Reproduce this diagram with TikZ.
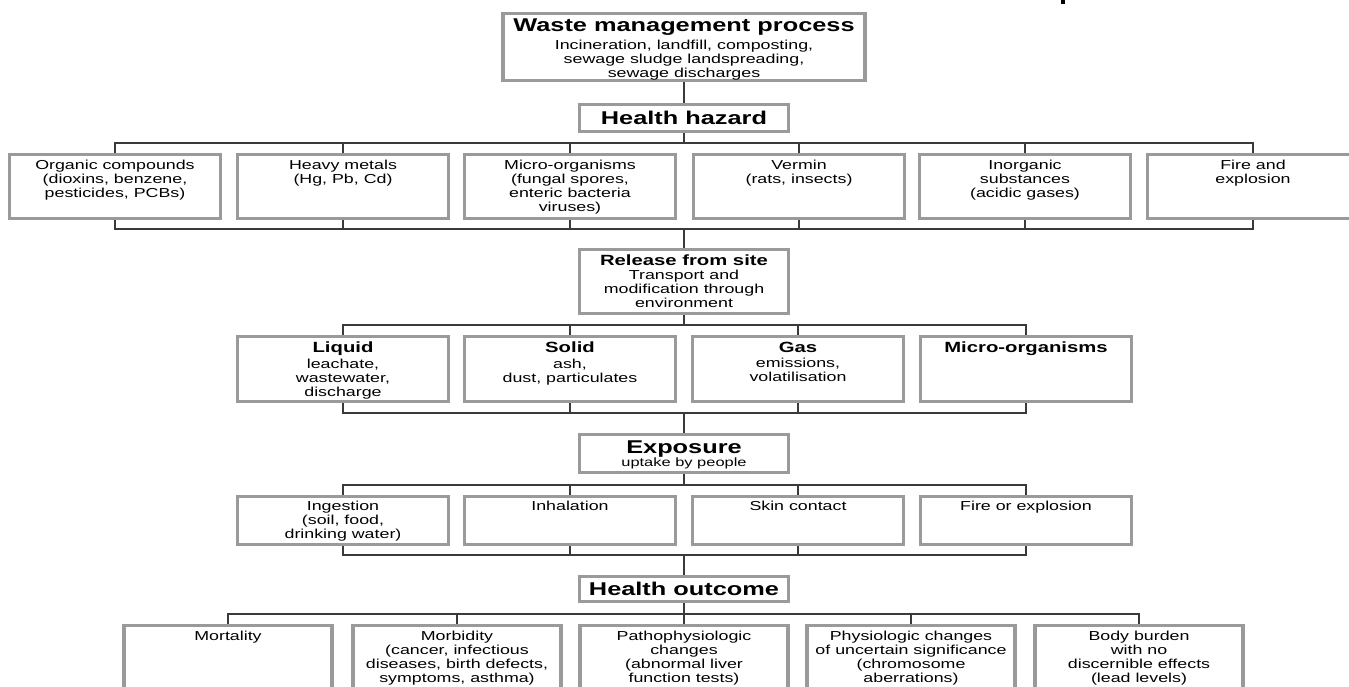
\documentclass[tikz,border=0pt]{standalone}
\usepackage{fontspec}
\setmainfont{Liberation Sans}[FakeStretch=1.37]
\newcommand\fsz[2]{\fontsize{#1}{#2}\selectfont}
\definecolor{boxgray}{HTML}{9A9A9A}
\definecolor{wiregray}{HTML}{3A3A3A}
\begin{document}
\begin{tikzpicture}[x=1pt,y=-1pt,
  box/.style={draw=boxgray, line width=3.4pt, fill=white, inner sep=0pt,
              minimum width=210.6pt},
  wire/.style={draw=wiregray, line width=1.6pt},
  txt/.style={anchor=north, inner sep=0pt, align=center, font=\fsz{13}{14}},
  hbig/.style={font=\bfseries\fsz{18.5}{20}},
]
\useasboundingbox (0,0) rectangle (1349,686);
\fill[white] (0,0) rectangle (1349,686);
\clip (0,0) rectangle (1349,686);

% stray printer mark at the top edge
\fill[black] (1061,0) rectangle (1065,4);

% ---- waste management process and hazard heading
\node[box, minimum width=362pt, minimum height=66.6pt] (wm) at (684,47) {};
\node[txt, yshift=-6.3pt] (wm-t) at (wm.north)
  {{\bfseries\fsz{18.5}{20}Waste management process}\\[4pt]
   Incineration, landfill, composting,\\ sewage sludge landspreading,\\ sewage discharges};
\node[box, hbig, minimum width=208.6pt, minimum height=26.6pt] (hh) at (684,118) {Health hazard};

% ---- hazard categories
\foreach \n/\x in {org/115, hvy/343, mic/570, ver/799, ino/1025, fir/1253}
  \node[box, minimum height=63.6pt] (\n) at (\x,186.5) {};
\node[txt, yshift=-7pt] (org-t) at (org.north) {Organic compounds\\(dioxins, benzene,\\pesticides, PCBs)};
\node[txt, yshift=-7pt] (hvy-t) at (hvy.north) {Heavy metals\\(Hg, Pb, Cd)};
\node[txt, yshift=-7pt] (mic-t) at (mic.north) {Micro-organisms\\(fungal spores,\\enteric bacteria\\viruses)};
\node[txt, yshift=-7pt] (ver-t) at (ver.north) {Vermin\\(rats, insects)};
\node[txt, yshift=-7pt] (ino-t) at (ino.north) {Inorganic\\substances\\(acidic gases)};
\node[txt, yshift=-7pt] (fir-t) at (fir.north) {Fire and\\explosion};

% ---- release from site
\node[box, minimum width=208.6pt, minimum height=63.6pt] (rel) at (684,281.5) {};
\node[txt, yshift=-6.6pt] (rel-t) at (rel.north)
  {{\bfseries\fsz{14.8}{16}Release from site}\\[0.4pt]
   Transport and\\modification through\\environment};

% ---- media
\foreach \n/\x in {liq/343, sol/570, gas/798, mor/1026}
  \node[box, minimum height=64.6pt] (\n) at (\x,369) {};
\node[txt, yshift=-6.6pt] (liq-t) at (liq.north) {{\bfseries\fsz{14.8}{16}Liquid}\\[1.5pt]leachate,\\wastewater,\\discharge};
\node[txt, yshift=-6.6pt] (sol-t) at (sol.north) {{\bfseries\fsz{14.8}{16}Solid}\\[1.5pt]ash,\\dust, particulates};
\node[txt, yshift=-6.6pt] (gas-t) at (gas.north) {{\bfseries\fsz{14.8}{16}Gas}\\[1.5pt]emissions,\\volatilisation};
\node[txt, yshift=-6.6pt] (mor-t) at (mor.north) {{\bfseries\fsz{14.8}{16}Micro-organisms}};

% ---- exposure
\node[box, minimum width=208.6pt, minimum height=37.6pt] (exp) at (684,453.5) {};
\node[txt, yshift=-7.2pt] (exp-t) at (exp.north)
  {{\bfseries\fsz{18.5}{20}Exposure}\\[-0.3pt]{\fsz{12}{13}uptake by people}};

% ---- routes of exposure
\foreach \n/\x in {ing/343, inh/570, ski/798, fie/1026}
  \node[box, minimum height=47.6pt] (\n) at (\x,520.5) {};
\node[txt, yshift=-6pt] (ing-t) at (ing.north) {Ingestion\\(soil, food,\\drinking water)};
\node[txt, yshift=-6pt] (inh-t) at (inh.north) {Inhalation};
\node[txt, yshift=-6pt] (ski-t) at (ski.north) {Skin contact};
\node[txt, yshift=-6pt] (fie-t) at (fie.north) {Fire or explosion};

% ---- health outcome
\node[box, hbig, minimum width=208.6pt, minimum height=24.6pt] (ho) at (684,589) {Health outcome};

\foreach \n/\x in {mort/228, morb/457, path/684, phys/911, body/1139}
  \node[box, minimum width=208pt, minimum height=80pt] (\n) at (\x,665.7) {};
\node[txt, yshift=-7pt] (mort-t) at (mort.north) {Mortality};
\node[txt, yshift=-7pt] (morb-t) at (morb.north) {Morbidity\\(cancer, infectious\\diseases, birth defects,\\symptoms, asthma)};
\node[txt, yshift=-7pt] (path-t) at (path.north) {Pathophysiologic\\changes\\(abnormal liver\\function tests)};
\node[txt, yshift=-7pt] (phys-t) at (phys.north) {Physiologic changes\\of uncertain significance\\(chromosome\\aberrations)};
\node[txt, yshift=-7pt] (body-t) at (body.north) {Body burden\\with no\\discernible effects\\(lead levels)};

% ---- connectors
\draw[wire] (wm.south) -- (hh.north);
\foreach \n in {org, hvy, mic, ver, ino, fir} {
  \draw[wire] (hh.south) -- ++(0,10) -| (\n.north);
  \draw[wire] (\n.south) -- ++(0,9) -| (rel.north);
}
\foreach \n in {liq, sol, gas, mor} {
  \draw[wire] (rel.south) -- ++(0,10) -| (\n.north);
  \draw[wire] (\n.south) -- ++(0,10) -| (exp.north);
}
\foreach \n in {ing, inh, ski, fie} {
  \draw[wire] (exp.south) -- ++(0,11) -| (\n.north);
  \draw[wire] (\n.south) -- ++(0,9) -| (ho.north);
}
\foreach \n in {mort, morb, path, phys, body}
  \draw[wire] (ho.south) -- ++(0,11) -| (\n.north);
\end{tikzpicture}
\end{document}
